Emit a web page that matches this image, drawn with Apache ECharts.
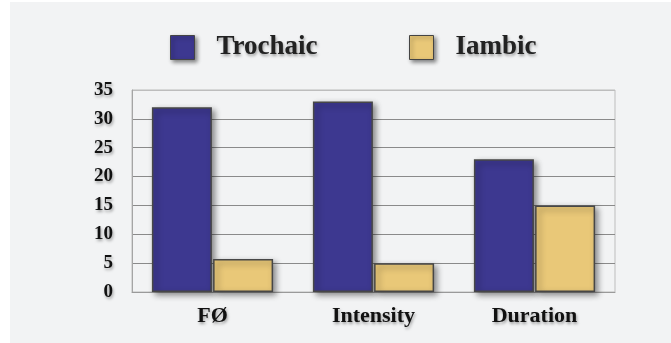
<!DOCTYPE html>
<html>
<head>
<meta charset="utf-8">
<style>
  html, body { margin: 0; padding: 0; background: #ffffff; }
  #chart { width: 671px; height: 343px; }
</style>
<script src="https://cdn.jsdelivr.net/npm/echarts@6/dist/echarts.min.js"></script>
</head>
<body>
<div id="chart"></div>
<script>
// Measured cue values per stress pattern
const categories = ['FØ', 'Intensity', 'Duration'];
const trochaic = [32, 33, 23];
const iambic = [5.7, 5, 15];
const seriesNames = ['Trochaic', 'Iambic'];
const yTicks = [0, 5, 10, 15, 20, 25, 30, 35];

const serif = '"Liberation Serif", "Times New Roman", serif';
const textShadow = {
  textShadowColor: 'rgba(0,0,0,0.35)',
  textShadowBlur: 3,
  textShadowOffsetX: 1,
  textShadowOffsetY: 2
};
const barShadow = {
  shadowColor: 'rgba(0,0,0,0.45)',
  shadowBlur: 6,
  shadowOffsetX: 3,
  shadowOffsetY: 3
};
const colors = ['#3d3890', '#e9c878'];

const chart = echarts.init(document.getElementById('chart'), null, { renderer: 'canvas' });

function legendFor(name, left) {
  return {
    data: [name],
    left: left,
    top: 29,
    icon: 'rect',
    itemWidth: 24,
    itemHeight: 24,
    selectedMode: false,
    itemStyle: Object.assign({ borderColor: '#444', borderWidth: 1 }, barShadow, { shadowBlur: 4, shadowOffsetX: 2, shadowOffsetY: 2 }),
    textStyle: Object.assign({
      fontFamily: serif,
      fontWeight: 'bold',
      fontSize: 27,
      color: '#222',
      padding: [0, 0, 0, 17]
    }, textShadow)
  };
}

chart.setOption({
  backgroundColor: '#ffffff',
  animation: false,
  graphic: [{
    type: 'rect',
    z: -10,
    shape: { x: 10, y: 2, width: 661, height: 341 },
    style: { fill: '#f2f3f4' },
    silent: true
  }],
  legend: [legendFor(seriesNames[0], 165), legendFor(seriesNames[1], 404)],
  grid: {
    left: 132,
    right: 56,
    top: 90,
    bottom: 51,
    show: true,
    borderColor: '#bdbdbd',
    borderWidth: 1,
    backgroundColor: 'transparent'
  },
  xAxis: {
    type: 'category',
    data: categories,
    axisTick: { show: false },
    axisLine: { show: true, lineStyle: { color: '#9a9a9a', width: 1 } },
    axisLabel: Object.assign({
      fontFamily: serif,
      fontWeight: 'bold',
      fontSize: 22,
      color: '#111',
      margin: 13
    }, textShadow)
  },
  yAxis: {
    type: 'value',
    min: yTicks[0],
    max: yTicks[yTicks.length - 1],
    interval: yTicks[1] - yTicks[0],
    axisTick: { show: false },
    axisLine: { show: true, lineStyle: { color: '#a5a5a5', width: 1 } },
    splitLine: {
      show: true,
      lineStyle: {
        color: ['#9a9a9a', '#8a8a8a', '#8a8a8a', '#8a8a8a', '#8a8a8a', '#8a8a8a', '#8a8a8a', '#bdbdbd'],
        width: 1
      }
    },
    axisLabel: Object.assign({
      fontFamily: serif,
      fontWeight: 'bold',
      fontSize: 19,
      color: '#111',
      margin: 19
    }, textShadow)
  },
  series: [
    {
      name: seriesNames[0],
      type: 'bar',
      data: trochaic,
      barWidth: 60,
      barGap: '2%',
      itemStyle: Object.assign({ color: colors[0], borderColor: '#474747', borderWidth: 1.5 }, barShadow)
    },
    {
      name: seriesNames[1],
      type: 'bar',
      data: iambic,
      barWidth: 60,
      itemStyle: Object.assign({ color: colors[1], borderColor: '#474747', borderWidth: 1.5 }, barShadow)
    }
  ]
});
</script>
</body>
</html>
